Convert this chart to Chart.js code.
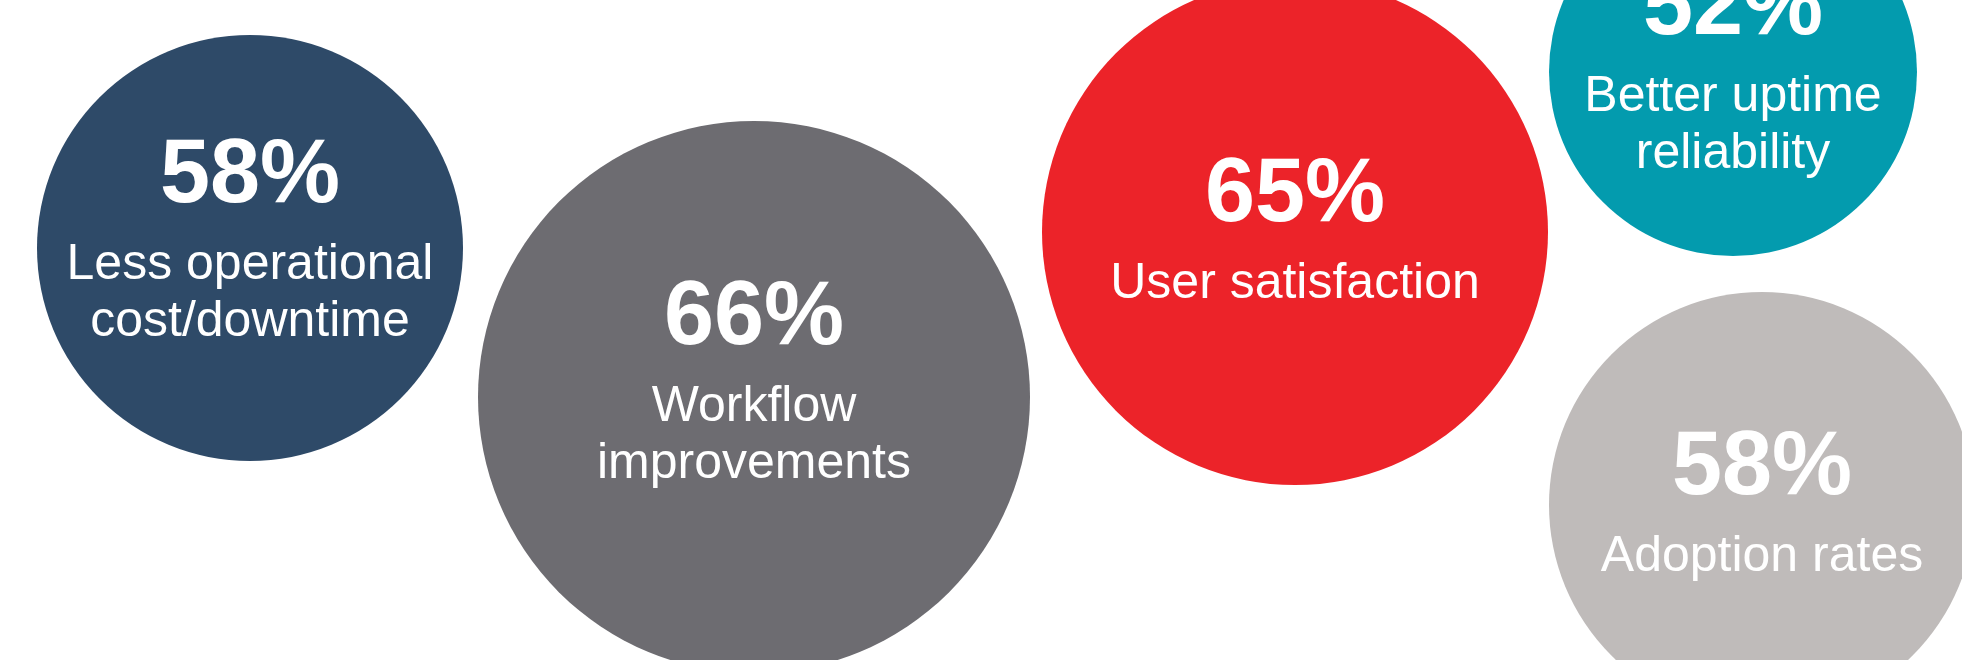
<!DOCTYPE html>
<html>
<head>
<meta charset="utf-8">
<script src="https://cdn.jsdelivr.net/npm/chart.js@4"></script>
<style>
  html, body { margin: 0; padding: 0; background: #ffffff; overflow: hidden; }
  canvas { display: block; }
</style>
</head>
<body>
<canvas id="bubbles" width="1962" height="660"></canvas>
<script>
// values
const values = [58, 66, 65, 52, 58];
const captions = [
  ['Less operational', 'cost/downtime'],
  ['Workflow', 'improvements'],
  ['User satisfaction'],
  ['Better uptime', 'reliability'],
  ['Adoption rates']
];
const colors = ['#2e4a68', '#6d6c71', '#ec2329', '#039bae', '#bfbbba'];

// bubble layout (x/y in axis units, r in px)
const bubbleX = [250, 754, 1295, 1733, 1762];
const bubbleY = [248, 397, 232, 72, 505];
const bubbleR = [213, 276, 253, 184, 213];
// small vertical nudge of the text block inside each bubble (px)
const textShift = [0, -7, 0, 8, 0];

const points = values.map((v, i) => ({ x: bubbleX[i], y: bubbleY[i], r: bubbleR[i] }));

const FONT = '"Liberation Sans", Arial, Helvetica, sans-serif';

const bubbleText = {
  id: 'bubbleText',
  afterDatasetsDraw(chart) {
    const ctx = chart.ctx;
    const meta = chart.getDatasetMeta(0);
    ctx.save();
    ctx.fillStyle = '#ffffff';
    ctx.textAlign = 'center';
    ctx.textBaseline = 'alphabetic';
    meta.data.forEach((el, i) => {
      const lines = captions[i];
      const numY = el.y - 11.5 - 35 * (lines.length - 1) + textShift[i];
      ctx.font = 'bold 90px ' + FONT;
      ctx.fillText(values[i] + '%', el.x, numY);
      ctx.font = '50px ' + FONT;
      lines.forEach((t, j) => {
        ctx.fillText(t, el.x, numY + 77 + 57 * j);
      });
    });
    ctx.restore();
  }
};

new Chart(document.getElementById('bubbles'), {
  type: 'bubble',
  data: {
    datasets: [{
      data: points,
      backgroundColor: colors,
      hoverBackgroundColor: colors,
      borderWidth: 0,
      hoverBorderWidth: 0,
      clip: false
    }]
  },
  options: {
    responsive: false,
    animation: false,
    events: [],
    layout: { padding: 0, autoPadding: false },
    plugins: {
      legend: { display: false },
      tooltip: { enabled: false }
    },
    scales: {
      x: { type: 'linear', min: 0, max: 1962, display: false },
      y: { type: 'linear', min: 0, max: 660, reverse: true, display: false }
    }
  },
  plugins: [bubbleText]
});
</script>
</body>
</html>
